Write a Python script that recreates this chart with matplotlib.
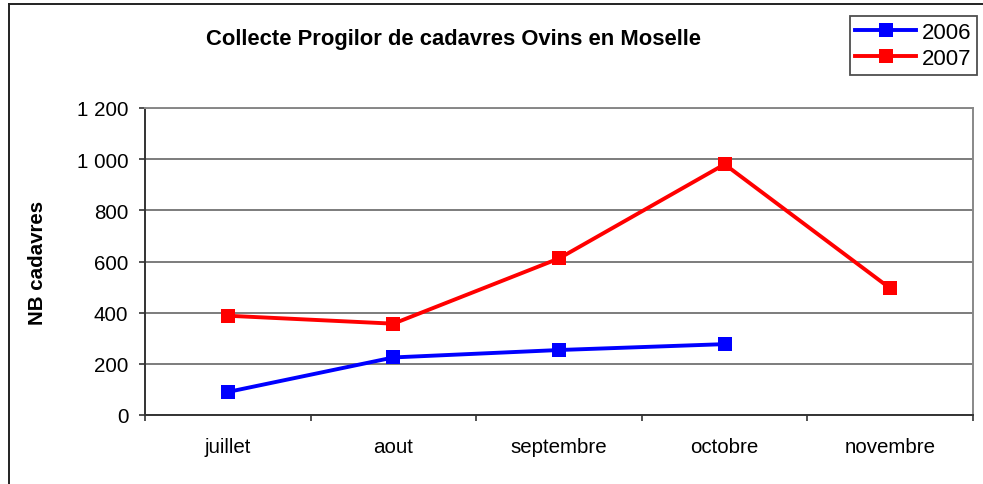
import matplotlib
matplotlib.use("Agg")
import matplotlib.pyplot as plt
from matplotlib.ticker import FuncFormatter, FixedLocator
from matplotlib.lines import Line2D
import numpy as np

plt.rcParams['font.family'] = ['Liberation Sans', 'DejaVu Sans']

months = ["juillet", "aout", "septembre", "octobre", "novembre"]
series_2006 = [90, 225, 254, 277]
series_2007 = [388, 357, 612, 980, 495]
yticks = [0, 200, 400, 600, 800, 1000, 1200]

W, H = 983, 485
fig = plt.figure(figsize=(W / 100, H / 100), dpi=100)
fig.patch.set_facecolor("white")

L, R, T, B = 145, 973, 109, 416
ax = fig.add_axes([L / W, 1 - B / H, (R - L) / W, (B - T) / H])

x06 = np.arange(len(series_2006))
x07 = np.arange(len(series_2007))
ax.plot(x06, series_2006, color="#0000ff", lw=2.8, marker="s", ms=10.5,
        markeredgewidth=0, label="2006", zorder=3)
ax.plot(x07, series_2007, color="#ff0000", lw=2.8, marker="s", ms=10.5,
        markeredgewidth=0, label="2007", zorder=3)

ax.set_xlim(-0.5, len(months) - 0.5)
ax.set_ylim(0, 1200)
ax.set_yticks(yticks)
ax.yaxis.set_major_formatter(FuncFormatter(lambda v, p: f"{v:,.0f}".replace(",", " ")))
ax.set_xticks(np.arange(len(months)))
ax.set_xticklabels(months)
ax.xaxis.set_minor_locator(FixedLocator(np.arange(len(months) + 1) - 0.5))
ax.tick_params(axis="x", which="major", length=0, pad=16, labelsize=14.8)
ax.tick_params(axis="x", which="minor", length=4, width=1.2, color="#333333", direction="out")
ax.tick_params(axis="y", which="major", length=4, width=1.2, color="#333333",
               direction="out", pad=8, labelsize=14.8)

ax.grid(axis="y", color="#666666", lw=1.2, zorder=1)
ax.set_axisbelow(True)
for s in ["left", "bottom"]:
    ax.spines[s].set_color("#333333")
    ax.spines[s].set_linewidth(1.4)
for s in ["right", "top"]:
    ax.spines[s].set_color("#888888")
    ax.spines[s].set_linewidth(1.4)

ax.set_ylabel("NB cadavres", fontsize=14.8, fontweight="bold")
ax.yaxis.set_label_coords((47 - L) / (R - L), 0.5)

fig.text(453 / W, 1 - 39 / H, "Collecte Progilor de cadavres Ovins en Moselle",
         ha="center", va="center", fontsize=15.8, fontweight="bold")

leg = fig.legend(loc="upper right", bbox_to_anchor=(977 / W, 1 - 17 / H),
                 fontsize=16, frameon=True, fancybox=False, handlelength=2.75,
                 handletextpad=0.25, labelspacing=0.25, borderpad=0.25,
                 borderaxespad=0)
leg.get_frame().set_edgecolor("#222222")
leg.get_frame().set_linewidth(1.3)

# outer chart frame (partially cropped)
fig.add_artist(Line2D([8.5 / W, 8.5 / W], [0, 1 - 5 / H], color="#222222", lw=1.4,
                      transform=fig.transFigure))
fig.add_artist(Line2D([8.5 / W, 1], [1 - 5 / H, 1 - 5 / H], color="#222222", lw=1.4,
                      transform=fig.transFigure))

fig.savefig("out.png", dpi=100)
